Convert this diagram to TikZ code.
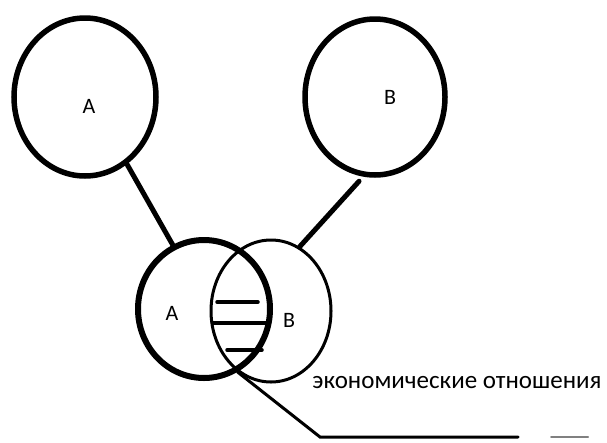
\documentclass[tikz,border=0pt]{standalone}
\usepackage{fontspec}
\setmainfont{Carlito}
\usepackage{tikz}
\usetikzlibrary{shapes.geometric, positioning, calc}

\begin{document}
\begin{tikzpicture}[x=1pt, y=-1pt, line cap=round,
    ring/.style={draw, ellipse, inner sep=0pt, line width=5.5pt},
    link/.style={line width=5pt},
    letter/.style={font=\fontsize{22}{26}\selectfont}]
    \useasboundingbox (0,0) rectangle (607,442);

    \node (topA) [ring, minimum width=142pt, minimum height=158pt] at (85,97) {};
    \node (topB) [ring, minimum width=140pt, minimum height=156pt] at (375,97) {};
    \node (botA) [ring, line width=6pt, minimum width=132pt, minimum height=138pt] at (204,309) {};
    \node (botB) [ring, line width=3pt, minimum width=120pt, minimum height=142pt] at (271,311) {};

    \node (labTopA) [letter] at (89,106) {А};
    \node (labTopB) [letter] at (390,97) {В};
    \node (labBotA) [letter] at (172,313) {А};
    \node (labBotB) [letter] at (289,320) {В};

    \draw[link] (topA.-58) -- (botA.116);
    \draw[link] ($(topB.-100)+(-2,5)$) -- (botB.66);

    % common part
    \foreach \y/\xa/\xb in {302/217/258, 323/213/268, 350/227/262}
        \draw[line width=3.5pt] (\xa,\y) -- (\xb,\y);

    \coordinate (knee) at (320,437);
    \coordinate (tail) at (518,437);
    \node (note) [font=\fontsize{25}{29}\selectfont] at (457,383) {экономические отношения};
    \draw[line width=3pt] (botA.-62) -- (knee) -- (tail);
    \draw[line width=2pt, gray] (551,437) -- (588,437);
\end{tikzpicture}
\end{document}
